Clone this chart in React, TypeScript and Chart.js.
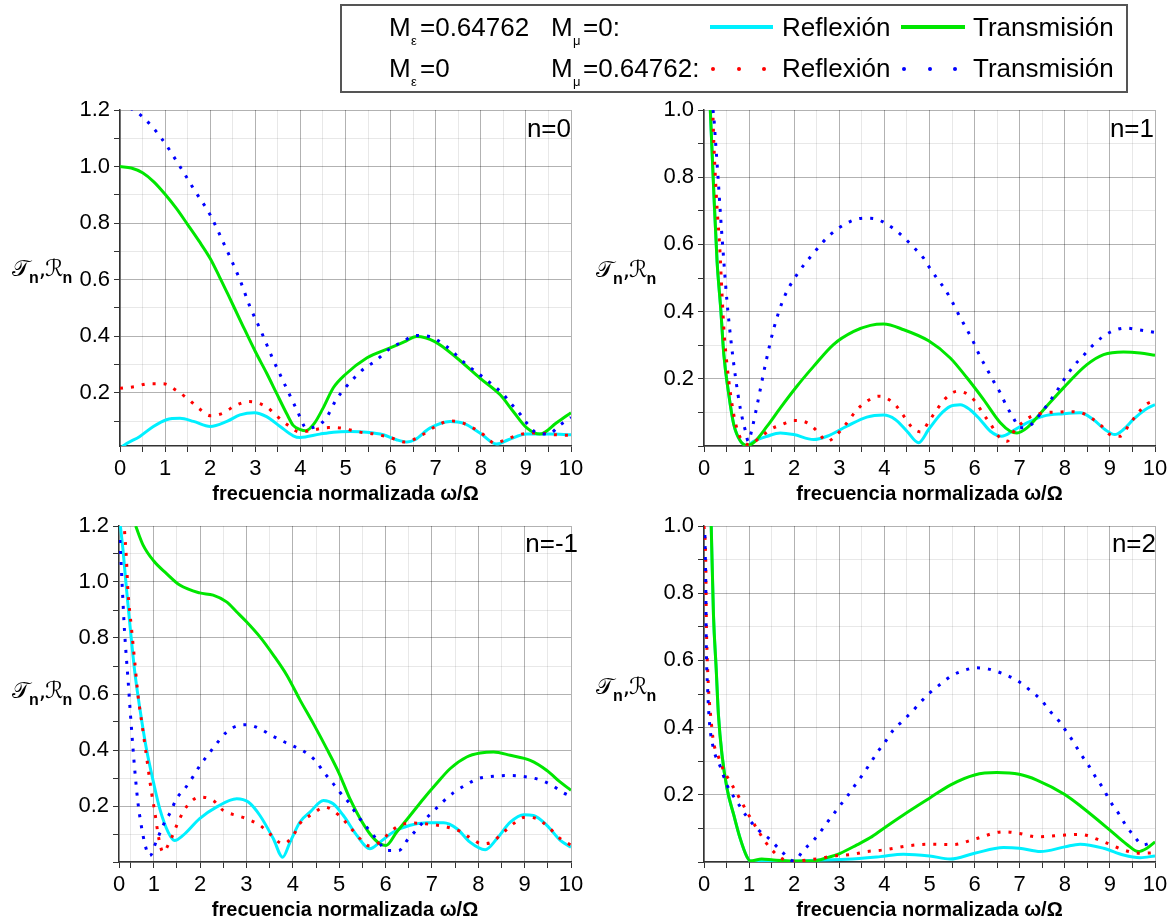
import React, { useEffect, useRef } from 'react';
import { Chart, registerables } from 'chart.js';

Chart.register(...registerables);

type Pt = [number, number];

// ---------------- n = 0 ----------------
const n0_reflexion_Me: Pt[] = [[0,0.0],[0.07,0.012],[0.44,0.046],[0.74,0.081],[1.03,0.105],[1.33,0.11],[1.63,0.099],[2.0,0.081],[2.37,0.099],[2.66,0.122],[2.98,0.13],[3.25,0.116],[3.55,0.081],[3.84,0.048],[3.99,0.042],[4.43,0.054],[4.73,0.061],[5.1,0.063],[5.47,0.061],[5.84,0.052],[6.13,0.034],[6.36,0.026],[6.54,0.034],[6.87,0.075],[7.32,0.099],[7.61,0.093],[7.98,0.058],[8.35,0.019],[8.61,0.034],[9.02,0.054],[9.53,0.054],[10,0.052]];
const n0_transmision_Me: Pt[] = [[0,1.0],[0.25,0.995],[0.5,0.978],[0.75,0.946],[1.0,0.902],[1.25,0.852],[1.5,0.795],[1.75,0.737],[2.0,0.675],[2.2,0.612],[2.4,0.546],[2.7,0.445],[3.0,0.346],[3.25,0.27],[3.47,0.199],[3.7,0.125],[3.84,0.085],[4.0,0.07],[4.12,0.066],[4.3,0.09],[4.5,0.145],[4.73,0.218],[4.99,0.264],[5.47,0.323],[5.99,0.359],[6.3,0.38],[6.58,0.399],[6.98,0.381],[7.47,0.323],[7.98,0.252],[8.43,0.193],[8.72,0.134],[9.02,0.076],[9.31,0.054],[9.68,0.094],[10,0.13]];
const n0_reflexion_Mmu: Pt[] = [[0,0.216],[0.33,0.222],[0.63,0.232],[0.96,0.232],[1.26,0.207],[1.51,0.178],[1.74,0.146],[2.01,0.119],[2.28,0.128],[2.55,0.154],[2.85,0.169],[3.02,0.166],[3.27,0.148],[3.47,0.119],[3.71,0.087],[3.99,0.061],[4.29,0.069],[4.62,0.077],[4.91,0.075],[5.32,0.061],[5.62,0.055],[5.99,0.042],[6.32,0.026],[6.58,0.04],[7.02,0.083],[7.32,0.101],[7.61,0.093],[7.87,0.072],[8.06,0.052],[8.31,0.022],[8.57,0.036],[8.9,0.054],[9.31,0.058],[9.63,0.052],[9.94,0.05]];
const n0_transmision_Mmu: Pt[] = [[0,1.22],[0.3,1.2],[0.52,1.173],[0.92,1.1],[1.33,1.0],[1.65,0.917],[2.0,0.829],[2.28,0.735],[2.66,0.599],[2.88,0.505],[3.13,0.417],[3.38,0.323],[3.64,0.234],[3.92,0.14],[4.14,0.075],[4.4,0.085],[4.58,0.113],[4.79,0.175],[4.99,0.217],[5.19,0.252],[5.42,0.287],[5.65,0.311],[6.0,0.358],[6.27,0.381],[6.54,0.403],[6.86,0.399],[7.24,0.364],[7.69,0.299],[7.98,0.264],[8.24,0.231],[8.46,0.201],[8.68,0.16],[8.87,0.125],[9.02,0.093],[9.24,0.058],[9.5,0.054],[9.76,0.087],[10,0.113]];

// ---------------- n = 1 ----------------
const n1_reflexion_Me: Pt[] = [[0.14,1.0],[0.22,0.747],[0.29,0.549],[0.37,0.41],[0.44,0.272],[0.55,0.153],[0.66,0.064],[0.81,0.014],[0.96,0.002],[1.1,0.014],[1.4,0.029],[1.69,0.039],[1.99,0.034],[2.43,0.019],[2.73,0.029],[3.17,0.059],[3.61,0.086],[3.98,0.092],[4.24,0.079],[4.5,0.044],[4.76,0.01],[4.98,0.049],[5.24,0.094],[5.46,0.118],[5.68,0.123],[5.9,0.108],[6.12,0.079],[6.35,0.044],[6.6,0.029],[6.86,0.046],[7.16,0.069],[7.53,0.089],[7.97,0.096],[8.34,0.099],[8.63,0.079],[8.89,0.049],[9.11,0.034],[9.3,0.049],[9.52,0.079],[9.78,0.108],[10,0.123]];
const n1_transmision_Me: Pt[] = [[0.14,1.0],[0.22,0.747],[0.29,0.549],[0.37,0.41],[0.44,0.272],[0.55,0.153],[0.66,0.064],[0.81,0.014],[0.96,0.002],[1.1,0.01],[1.4,0.059],[1.69,0.113],[2.06,0.178],[2.43,0.237],[2.87,0.302],[3.32,0.341],[3.69,0.359],[3.98,0.363],[4.43,0.346],[4.98,0.313],[5.46,0.262],[5.83,0.203],[6.2,0.138],[6.57,0.069],[6.79,0.044],[6.94,0.039],[7.16,0.054],[7.53,0.108],[7.97,0.173],[8.49,0.242],[8.86,0.272],[9.3,0.28],[9.67,0.277],[10,0.27]];
const n1_reflexion_Mmu: Pt[] = [[0.2,0.977],[0.22,0.896],[0.25,0.807],[0.29,0.708],[0.35,0.589],[0.4,0.45],[0.45,0.331],[0.51,0.242],[0.59,0.153],[0.68,0.079],[0.79,0.029],[0.9,0.01],[0.99,0.004],[1.25,0.026],[1.47,0.049],[1.73,0.064],[1.99,0.076],[2.29,0.069],[2.51,0.044],[2.73,0.014],[2.87,0.024],[3.17,0.069],[3.39,0.108],[3.61,0.133],[3.87,0.148],[3.98,0.146],[4.24,0.123],[4.43,0.089],[4.61,0.056],[4.8,0.042],[5.0,0.076],[5.16,0.108],[5.35,0.141],[5.62,0.163],[5.86,0.153],[6.01,0.133],[6.2,0.094],[6.36,0.064],[6.53,0.029],[6.72,0.014],[6.9,0.049],[7.05,0.069],[7.27,0.089],[7.56,0.099],[7.86,0.101],[8.04,0.102],[8.3,0.101],[8.6,0.082],[8.82,0.059],[9.0,0.034],[9.22,0.029],[9.41,0.059],[9.6,0.094],[9.82,0.125],[10,0.135]];
const n1_transmision_Mmu: Pt[] = [[0.2,1.0],[0.22,0.976],[0.25,0.917],[0.31,0.802],[0.37,0.679],[0.44,0.549],[0.51,0.43],[0.6,0.311],[0.7,0.203],[0.81,0.108],[0.92,0.044],[0.98,0.014],[1.07,0.054],[1.18,0.123],[1.36,0.242],[1.55,0.351],[1.77,0.44],[2.06,0.51],[2.43,0.574],[2.8,0.629],[3.24,0.668],[3.54,0.678],[3.84,0.675],[3.98,0.666],[4.24,0.643],[4.46,0.617],[4.68,0.587],[4.87,0.559],[5.0,0.531],[5.16,0.5],[5.35,0.465],[5.5,0.43],[5.64,0.393],[5.79,0.356],[5.94,0.319],[6.12,0.267],[6.27,0.23],[6.42,0.193],[6.57,0.158],[6.7,0.121],[6.85,0.086],[7.01,0.054],[7.23,0.061],[7.45,0.094],[7.64,0.128],[7.82,0.163],[8.01,0.203],[8.19,0.237],[8.41,0.269],[8.6,0.297],[8.82,0.323],[9.04,0.341],[9.34,0.351],[9.63,0.346],[10,0.338]];

// ---------------- n = -1 ----------------
const nm1_reflexion_Me: Pt[] = [[0.28,1.2],[0.34,1.108],[0.41,0.977],[0.5,0.822],[0.59,0.679],[0.7,0.548],[0.84,0.405],[1.0,0.28],[1.13,0.19],[1.31,0.107],[1.45,0.077],[1.63,0.095],[1.99,0.155],[2.35,0.196],[2.79,0.226],[3.04,0.214],[3.29,0.166],[3.58,0.083],[3.78,0.017],[3.94,0.071],[4.15,0.142],[4.37,0.178],[4.66,0.22],[4.87,0.208],[5.09,0.166],[5.38,0.095],[5.66,0.047],[5.88,0.071],[6.17,0.107],[6.53,0.131],[6.89,0.14],[7.25,0.14],[7.54,0.119],[7.82,0.071],[8.15,0.044],[8.4,0.083],[8.69,0.142],[8.98,0.169],[9.19,0.166],[9.48,0.131],[9.77,0.077],[10,0.053]];
const nm1_transmision_Me: Pt[] = [[0.61,1.2],[0.77,1.132],[1.0,1.075],[1.27,1.031],[1.56,0.989],[1.99,0.961],[2.28,0.953],[2.57,0.929],[2.79,0.893],[3.0,0.858],[3.29,0.804],[3.58,0.739],[3.87,0.667],[4.15,0.58],[4.44,0.495],[4.73,0.405],[5.0,0.316],[5.23,0.226],[5.45,0.155],[5.66,0.101],[5.88,0.065],[6.01,0.059],[6.24,0.107],[6.53,0.166],[6.82,0.226],[7.1,0.28],[7.39,0.333],[7.75,0.375],[8.04,0.389],[8.33,0.393],[8.69,0.381],[9.12,0.363],[9.48,0.327],[9.77,0.285],[10,0.256]];
const nm1_reflexion_Mmu: Pt[] = [[0.37,1.182],[0.41,1.084],[0.44,0.977],[0.52,0.834],[0.59,0.715],[0.66,0.596],[0.76,0.476],[0.85,0.369],[0.95,0.25],[1.02,0.181],[1.11,0.083],[1.2,0.035],[1.34,0.071],[1.56,0.155],[1.7,0.196],[1.99,0.232],[2.28,0.22],[2.5,0.184],[2.79,0.166],[3.0,0.155],[3.29,0.131],[3.5,0.101],[3.79,0.065],[4.01,0.095],[4.15,0.137],[4.44,0.173],[4.69,0.196],[5.0,0.166],[5.23,0.125],[5.45,0.083],[5.66,0.057],[5.88,0.071],[6.1,0.107],[6.31,0.131],[6.6,0.139],[7.03,0.133],[7.32,0.125],[7.61,0.109],[7.86,0.083],[8.08,0.065],[8.29,0.071],[8.51,0.101],[8.76,0.137],[9.01,0.16],[9.26,0.155],[9.51,0.125],[9.77,0.083],[10,0.06]];
const nm1_transmision_Mmu: Pt[] = [[0.27,1.15],[0.3,1.05],[0.33,0.95],[0.36,0.85],[0.4,0.75],[0.45,0.64],[0.5,0.52],[0.55,0.41],[0.6,0.31],[0.66,0.21],[0.73,0.13],[0.8,0.07],[0.86,0.035],[0.9,0.022],[0.96,0.03],[1.02,0.059],[1.11,0.095],[1.22,0.137],[1.36,0.178],[1.49,0.226],[1.67,0.262],[1.84,0.303],[2.01,0.348],[2.19,0.387],[2.37,0.426],[2.57,0.464],[2.84,0.488],[3.01,0.49],[3.29,0.476],[3.54,0.452],[3.79,0.431],[4.01,0.414],[4.26,0.393],[4.48,0.363],[4.69,0.316],[4.87,0.28],[5.01,0.25],[5.2,0.214],[5.38,0.169],[5.56,0.131],[5.74,0.095],[5.88,0.065],[6.02,0.041],[6.28,0.041],[6.49,0.083],[6.69,0.119],[6.87,0.155],[7.03,0.181],[7.23,0.214],[7.46,0.247],[7.72,0.274],[8.0,0.298],[8.33,0.306],[8.62,0.309],[8.94,0.306],[9.3,0.295],[9.59,0.274],[9.84,0.247],[10,0.235]];

// ---------------- n = 2 ----------------
const n2_reflexion_Me: Pt[] = [[0.16,1.0],[0.21,0.735],[0.27,0.576],[0.32,0.438],[0.4,0.318],[0.51,0.219],[0.66,0.14],[0.8,0.071],[0.95,0.016],[1.03,0.003],[1.5,0.002],[2.0,0.002],[2.58,0.006],[3.17,0.008],[3.91,0.016],[4.42,0.023],[5.0,0.018],[5.46,0.009],[6.0,0.026],[6.64,0.043],[6.99,0.041],[7.46,0.031],[8.0,0.045],[8.34,0.053],[8.86,0.041],[9.3,0.021],[9.67,0.013],[10,0.018]];
const n2_transmision_Me: Pt[] = [[0.16,1.0],[0.21,0.735],[0.27,0.576],[0.32,0.438],[0.4,0.318],[0.51,0.219],[0.66,0.14],[0.8,0.071],[0.95,0.016],[1.03,0.003],[1.28,0.009],[1.54,0.006],[1.99,0.003],[2.43,0.003],[2.73,0.013],[3.02,0.026],[3.39,0.051],[3.68,0.072],[3.98,0.1],[4.42,0.14],[5.0,0.19],[5.46,0.229],[6.0,0.259],[6.49,0.266],[6.99,0.261],[7.38,0.244],[8.0,0.201],[8.41,0.16],[9.0,0.095],[9.37,0.053],[9.63,0.031],[9.82,0.041],[10,0.06]];
const n2_reflexion_Mmu: Pt[] = [[0,1.0],[0.04,0.884],[0.05,0.735],[0.07,0.616],[0.1,0.517],[0.16,0.418],[0.21,0.358],[0.32,0.313],[0.43,0.274],[0.58,0.239],[0.77,0.194],[0.95,0.15],[1.17,0.1],[1.36,0.06],[1.54,0.031],[1.76,0.008],[1.99,0.002],[2.28,0.006],[2.58,0.011],[2.87,0.018],[3.31,0.023],[3.61,0.031],[3.98,0.036],[4.57,0.049],[5.0,0.053],[5.53,0.052],[6.0,0.068],[6.64,0.09],[6.99,0.085],[7.38,0.075],[8.0,0.08],[8.34,0.082],[8.86,0.06],[9.3,0.036],[9.67,0.026],[9.93,0.027]];
const n2_transmision_Mmu: Pt[] = [[0.02,0.973],[0.04,0.815],[0.05,0.656],[0.08,0.517],[0.12,0.418],[0.21,0.338],[0.36,0.284],[0.51,0.229],[0.73,0.18],[0.95,0.135],[1.21,0.095],[1.43,0.071],[1.69,0.036],[1.99,0.003],[2.21,0.036],[2.43,0.065],[2.61,0.095],[2.8,0.13],[3.0,0.165],[3.2,0.2],[3.35,0.229],[3.54,0.264],[3.72,0.301],[3.89,0.335],[4.02,0.358],[4.2,0.393],[4.39,0.418],[4.61,0.447],[4.81,0.477],[5.01,0.504],[5.24,0.529],[5.5,0.555],[5.79,0.571],[6.01,0.578],[6.31,0.574],[6.6,0.562],[6.88,0.545],[7.01,0.534],[7.25,0.509],[7.49,0.48],[7.67,0.449],[7.88,0.418],[8.01,0.393],[8.19,0.358],[8.34,0.324],[8.52,0.289],[8.69,0.251],[8.85,0.219],[9.0,0.182],[9.19,0.145],[9.34,0.112],[9.52,0.08],[9.74,0.051],[9.96,0.06]];

// ---------------- axes ----------------
const xTicksFull = [0,0.5,1,1.5,2,2.5,3,3.5,4,4.5,5,5.5,6,6.5,7,7.5,8,8.5,9,9.5,10];
const xTicksShifted = [0.25,0.5,1,1.5,2,2.5,3,3.5,4,4.5,5,5.5,6,6.5,7,7.5,8,8.5,9,9.5,10];
const yTicksTo12 = [0.1,0.2,0.3,0.4,0.5,0.6,0.7,0.8,0.9,1.0,1.1,1.2];
const yTicksTo10 = [0,0.1,0.2,0.3,0.4,0.5,0.6,0.7,0.8,0.9,1.0];
const xAxisTitle = 'frecuencia normalizada ω/Ω';
const legendRows = [
  { me: '=0.64762', mmu: '=0:', refl: 'Reflexión', trans: 'Transmisión' },
  { me: '=0', mmu: '=0.64762:', refl: 'Reflexión', trans: 'Transmisión' },
];

const COL_CYAN = '#00F0FF';
const COL_GREEN = '#00E600';
const COL_RED = '#FF0000';
const COL_BLUE = '#0000FF';
const FONT = "'Liberation Sans', Arial, Helvetica, sans-serif";

interface PanelCfg {
  label: string;
  canvasL: number; canvasT: number; canvasW: number;
  plotL: number; plotR: number; plotT: number; plotB: number;
  xMin: number; yMin: number; yMax: number;
  xTicks: number[]; yTicks: number[];
  reflMe: Pt[]; transMe: Pt[]; reflMmu: Pt[]; transMmu: Pt[];
  titleTop: number; labelTop: number; labelRight: number;
}

const panels: PanelCfg[] = [
  { label: 'n=0', canvasL: 0, canvasT: 90, canvasW: 600, plotL: 120, plotR: 571, plotT: 110, plotB: 446,
    xMin: 0, yMin: 0.012, yMax: 1.2, xTicks: xTicksFull, yTicks: yTicksTo12,
    reflMe: n0_reflexion_Me, transMe: n0_transmision_Me, reflMmu: n0_reflexion_Mmu, transMmu: n0_transmision_Mmu,
    titleTop: 255, labelTop: 115, labelRight: 571 },
  { label: 'n=1', canvasL: 585, canvasT: 90, canvasW: 587, plotL: 704, plotR: 1155, plotT: 110, plotB: 446,
    xMin: 0, yMin: 0, yMax: 1.0, xTicks: xTicksFull, yTicks: yTicksTo10,
    reflMe: n1_reflexion_Me, transMe: n1_transmision_Me, reflMmu: n1_reflexion_Mmu, transMmu: n1_transmision_Mmu,
    titleTop: 256, labelTop: 115, labelRight: 1154 },
  { label: 'n=-1', canvasL: 0, canvasT: 506, canvasW: 600, plotL: 119, plotR: 571, plotT: 526, plotB: 862,
    xMin: 0.25, yMin: 0, yMax: 1.2, xTicks: xTicksShifted, yTicks: yTicksTo10.concat([1.1, 1.2]),
    reflMe: nm1_reflexion_Me, transMe: nm1_transmision_Me, reflMmu: nm1_reflexion_Mmu, transMmu: nm1_transmision_Mmu,
    titleTop: 677, labelTop: 530, labelRight: 578 },
  { label: 'n=2', canvasL: 585, canvasT: 506, canvasW: 587, plotL: 704, plotR: 1155, plotT: 526, plotB: 862,
    xMin: 0, yMin: 0, yMax: 1.0, xTicks: xTicksFull, yTicks: yTicksTo10,
    reflMe: n2_reflexion_Me, transMe: n2_transmision_Me, reflMmu: n2_reflexion_Mmu, transMmu: n2_transmision_Mmu,
    titleTop: 673, labelTop: 530, labelRight: 1156 },
];

const X_AXIS_H = 62;
const isMult = (v: number, step: number) => Math.abs(v / step - Math.round(v / step)) < 1e-6;
const toXY = (pts: Pt[]) => pts.map(([x, y]) => ({ x, y }));

function Panel({ cfg }: { cfg: PanelCfg }) {
  const ref = useRef<HTMLCanvasElement>(null);
  const canvasH = cfg.plotB - cfg.canvasT + X_AXIS_H;
  useEffect(() => {
    const dotted = { borderWidth: 3, borderDash: [3, 8], borderCapStyle: 'butt' as const };
    const solid = { borderWidth: 3 };
    const common = { pointRadius: 0, fill: false, cubicInterpolationMode: 'monotone' as const };
    const chart = new Chart(ref.current!, {
      type: 'line',
      data: {
        datasets: [
          { label: 'Transmisión Mμ', data: toXY(cfg.transMmu), borderColor: COL_BLUE, ...dotted, ...common },
          { label: 'Reflexión Mμ', data: toXY(cfg.reflMmu), borderColor: COL_RED, ...dotted, ...common },
          { label: 'Transmisión Mε', data: toXY(cfg.transMe), borderColor: COL_GREEN, ...solid, ...common },
          { label: 'Reflexión Mε', data: toXY(cfg.reflMe), borderColor: COL_CYAN, ...solid, ...common },
        ],
      },
      options: {
        animation: false,
        responsive: false,
        devicePixelRatio: 1,
        layout: { padding: { left: 0, top: cfg.plotT - cfg.canvasT, right: cfg.canvasW - (cfg.plotR - cfg.canvasL), bottom: 0 } },
        plugins: { legend: { display: false }, tooltip: { enabled: false }, title: { display: false } },
        scales: {
          x: {
            type: 'linear', min: cfg.xMin, max: 10,
            afterBuildTicks: (s: any) => { s.ticks = cfg.xTicks.map((v) => ({ value: v })); },
            afterFit: (s: any) => { s.height = X_AXIS_H; s.paddingLeft = 0; s.paddingRight = 0; s.paddingTop = 0; s.paddingBottom = 0; },
            ticks: {
              autoSkip: false, maxRotation: 0, minRotation: 0, padding: 4, color: '#000',
              font: { family: FONT, size: 22 },
              callback: (v: any) => {
                const n = Number(v);
                if (Math.abs(n - cfg.xMin) < 1e-9 && cfg.xMin !== 0) return '0';
                return isMult(n, 1) ? String(Math.round(n)) : '';
              },
            },
            grid: {
              color: (c: any) => (c.tick && isMult(c.tick.value, 1) ? 'rgba(0,0,0,0.30)' : 'rgba(0,0,0,0.09)'),
              lineWidth: 1, tickColor: '#333', tickLength: 6, tickWidth: 1,
            },
            border: { color: '#333', width: 1.5 },
            title: { display: true, text: xAxisTitle, color: '#000', font: { family: FONT, size: 20, weight: 'bold' }, padding: { top: 0, bottom: 2 } },
          },
          y: {
            type: 'linear', min: cfg.yMin, max: cfg.yMax,
            afterBuildTicks: (s: any) => { s.ticks = cfg.yTicks.map((v) => ({ value: v })); },
            afterFit: (s: any) => { s.width = cfg.plotL - cfg.canvasL; s.paddingTop = 0; s.paddingBottom = 0; s.paddingLeft = 0; s.paddingRight = 0; },
            ticks: {
              autoSkip: false, padding: 4, color: '#000', font: { family: FONT, size: 22 },
              callback: (v: any) => {
                const n = Number(v);
                return n > 0.05 && isMult(n, 0.2) ? n.toFixed(1) : '';
              },
            },
            grid: {
              color: (c: any) => (c.tick && isMult(c.tick.value, 0.2) ? 'rgba(0,0,0,0.30)' : 'rgba(0,0,0,0.09)'),
              lineWidth: 1, tickColor: '#333', tickLength: 6, tickWidth: 1,
            },
            border: { color: '#333', width: 1.5 },
          },
        },
      },
    } as any);
    return () => chart.destroy();
  }, []);
  return (
    <canvas
      ref={ref}
      width={cfg.canvasW}
      height={canvasH}
      style={{ position: 'absolute', left: cfg.canvasL, top: cfg.canvasT, width: cfg.canvasW, height: canvasH }}
    />
  );
}

function YTitle({ left, top }: { left: number; top: number }) {
  const sub: React.CSSProperties = { fontFamily: FONT, fontWeight: 'bold', fontSize: 16, position: 'relative', top: 7, letterSpacing: 0 };
  return (
    <div style={{ position: 'absolute', left, top, fontFamily: "'DejaVu Sans', 'DejaVu Serif', 'Noto Sans', serif", fontSize: 23, lineHeight: '26px', letterSpacing: -1, whiteSpace: 'nowrap', color: '#000' }}>
      𝒯<span style={sub}>n</span>,ℛ<span style={sub}>n</span>
    </div>
  );
}

function Legend() {
  const txt = (left: number, top: number, s: string, size = 26): React.ReactNode => (
    <div key={`${left}-${top}-${s}`} style={{ position: 'absolute', left, top, fontFamily: FONT, fontSize: size, lineHeight: `${size}px`, whiteSpace: 'nowrap', color: '#000' }}>{s}</div>
  );
  const dot = (cx: number, cy: number, color: string) => (
    <div key={`d${cx}-${cy}`} style={{ position: 'absolute', left: cx - 2, top: cy - 2, width: 4, height: 4, borderRadius: 2, background: color }} />
  );
  const rowTops = [14, 55];
  const subTops = [34, 75];
  return (
    <div style={{ position: 'absolute', left: 0, top: 0 }}>
      <div style={{ position: 'absolute', left: 340, top: 4, width: 788, height: 89, boxSizing: 'border-box', border: '2px solid #555' }} />
      {legendRows.map((r, i) => [
        txt(389, rowTops[i], 'M'),
        txt(411, subTops[i], 'ε', 13),
        txt(420, rowTops[i], r.me),
        txt(551, rowTops[i], 'M'),
        txt(573, subTops[i], 'μ', 13),
        txt(583, rowTops[i], r.mmu),
        txt(782, rowTops[i], r.refl),
        txt(973, rowTops[i], r.trans),
      ])}
      <div style={{ position: 'absolute', left: 710, top: 25, width: 63, height: 4, background: COL_CYAN }} />
      <div style={{ position: 'absolute', left: 901, top: 25, width: 64, height: 4, background: COL_GREEN }} />
      {[713, 739, 764].map((x) => dot(x, 69, COL_RED))}
      {[904, 930, 955].map((x) => dot(x, 69, COL_BLUE))}
    </div>
  );
}

export default function App() {
  return (
    <div style={{ position: 'absolute', left: 0, top: 0, width: 1172, height: 923, overflow: 'hidden', background: '#fff' }}>
      {panels.map((p) => <Panel key={p.label} cfg={p} />)}
      {panels.map((p) => <YTitle key={'t' + p.label} left={p.canvasL === 0 ? 12 : 596} top={p.titleTop} />)}
      {panels.map((p) => (
        <div key={'l' + p.label} style={{ position: 'absolute', right: 1172 - p.labelRight, top: p.labelTop, fontFamily: FONT, fontSize: 26, lineHeight: '26px', color: '#000', whiteSpace: 'nowrap' }}>{p.label}</div>
      ))}
      <Legend />
    </div>
  );
}
